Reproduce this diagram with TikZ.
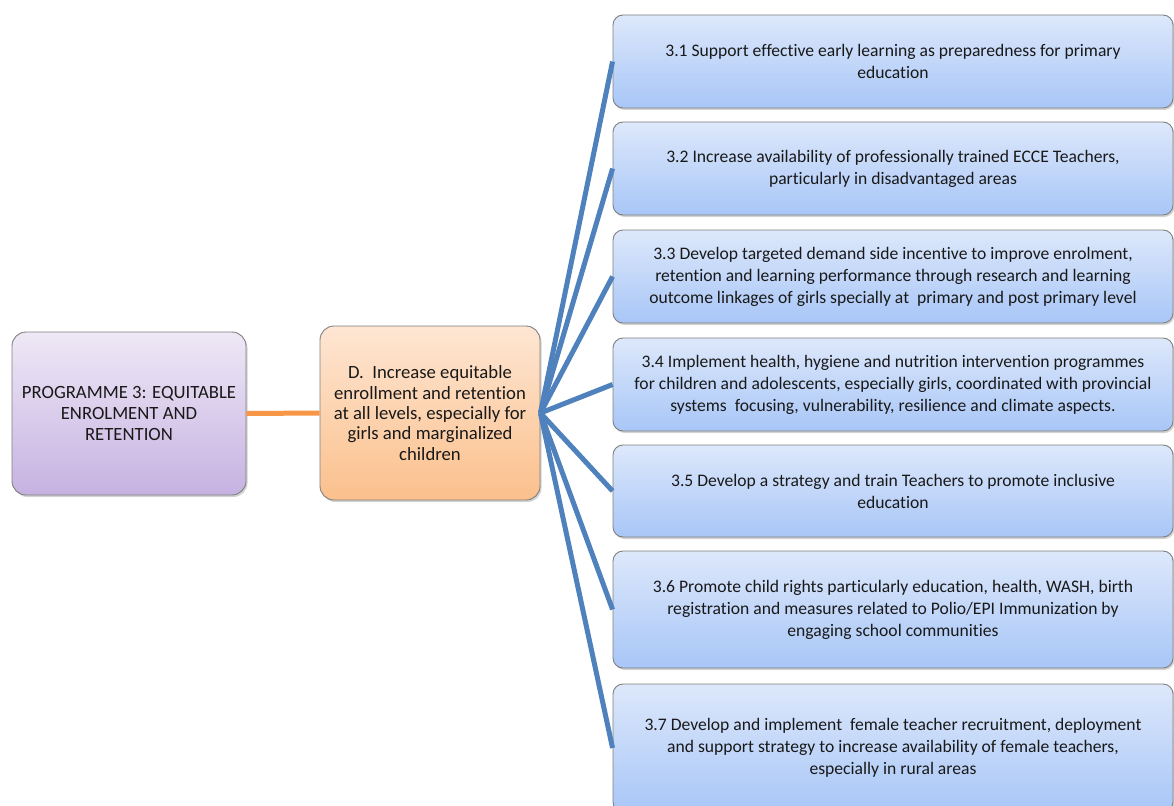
\documentclass[tikz,border=0pt]{standalone}
\usepackage{fontspec}
\setmainfont{Carlito}[Ligatures={NoCommon}]
\usetikzlibrary{shadows}
\definecolor{blueline}{HTML}{4F81BD}
\definecolor{orangeline}{HTML}{F79646}
\definecolor{bluetop}{HTML}{DDE8FB}
\definecolor{bluebot}{HTML}{A8C6F7}
\definecolor{purtop}{HTML}{EEE8F6}
\definecolor{purbot}{HTML}{C6B2E1}
\definecolor{oratop}{HTML}{FEE6D3}
\definecolor{orabot}{HTML}{FBC08C}
\definecolor{edge}{HTML}{7F7F7F}
\tikzset{
  boxbase/.style={rectangle, draw=edge, line width=0.9pt, align=center, text=black!90,
    drop shadow={opacity=0.35, shadow xshift=1.5pt, shadow yshift=-2pt}},
  subbox/.style={boxbase, rounded corners=10pt, minimum width=560pt, top color=bluetop, bottom color=bluebot,
    font=\fontsize{17.6pt}{22pt}\selectfont},
  progbox/.style={boxbase, rounded corners=14pt, minimum width=234pt, minimum height=163pt,
    top color=purtop, bottom color=purbot, font=\fontsize{18.7pt}{21pt}\selectfont},
  goalbox/.style={boxbase, rounded corners=14pt, minimum width=220pt, minimum height=174pt,
    top color=oratop, bottom color=orabot, font=\fontsize{18.7pt}{20.3pt}\selectfont},
  bluelink/.style={draw=blueline, line width=5pt},
  orangelink/.style={draw=orangeline, line width=5pt}
}
\begin{document}
\begin{tikzpicture}[x=1pt,y=1pt]
\path[use as bounding box, clip] (0,0) rectangle (1174,-805);
\node[progbox] (prog) at (129,-413.5) {PROGRAMME 3: EQUITABLE\\ENROLMENT AND\\RETENTION};
\node[goalbox] (goal) at (430,-413) {D.\ \ Increase equitable\\enrollment and retention\\at all levels, especially for\\girls and marginalized\\children};
\node[subbox, minimum height=93pt] (s1) at (893,-61.5) {3.1 Support effective early learning as preparedness for primary\\education};
\node[subbox, minimum height=93pt] (s2) at (893,-168.5) {3.2 Increase availability of professionally trained ECCE Teachers,\\particularly in disadvantaged areas};
\node[subbox, minimum height=93pt] (s3) at (893,-276.5) {3.3 Develop targeted demand side incentive to improve enrolment,\\retention and learning performance through research and learning\\outcome linkages of girls specially at\ \ primary and post primary level};
\node[subbox, minimum height=93pt] (s4) at (893,-384.5) {3.4 Implement health, hygiene and nutrition intervention programmes\\for children and adolescents, especially girls, coordinated with provincial\\systems\ \ focusing, vulnerability, resilience and climate aspects.};
\node[subbox, minimum height=92pt] (s5) at (893,-491) {3.5 Develop a strategy and train Teachers to promote inclusive\\education};
\node[subbox, minimum height=117pt] (s6) at (893,-609.5) {3.6 Promote child rights particularly education, health, WASH, birth\\registration and measures related to Polio/EPI Immunization by\\engaging school communities};
\node[subbox, minimum height=128pt] (s7) at (893,-748) {3.7 Develop and implement\ \ female teacher recruitment, deployment\\and support strategy to increase availability of female teachers,\\especially in rural areas};
\draw[orangelink] (prog.east) -- (goal.west);
\foreach \n in {s1,s2,s3,s4,s5,s6,s7}
  \draw[bluelink] (goal.east) -- (\n.west);
\end{tikzpicture}
\end{document}
